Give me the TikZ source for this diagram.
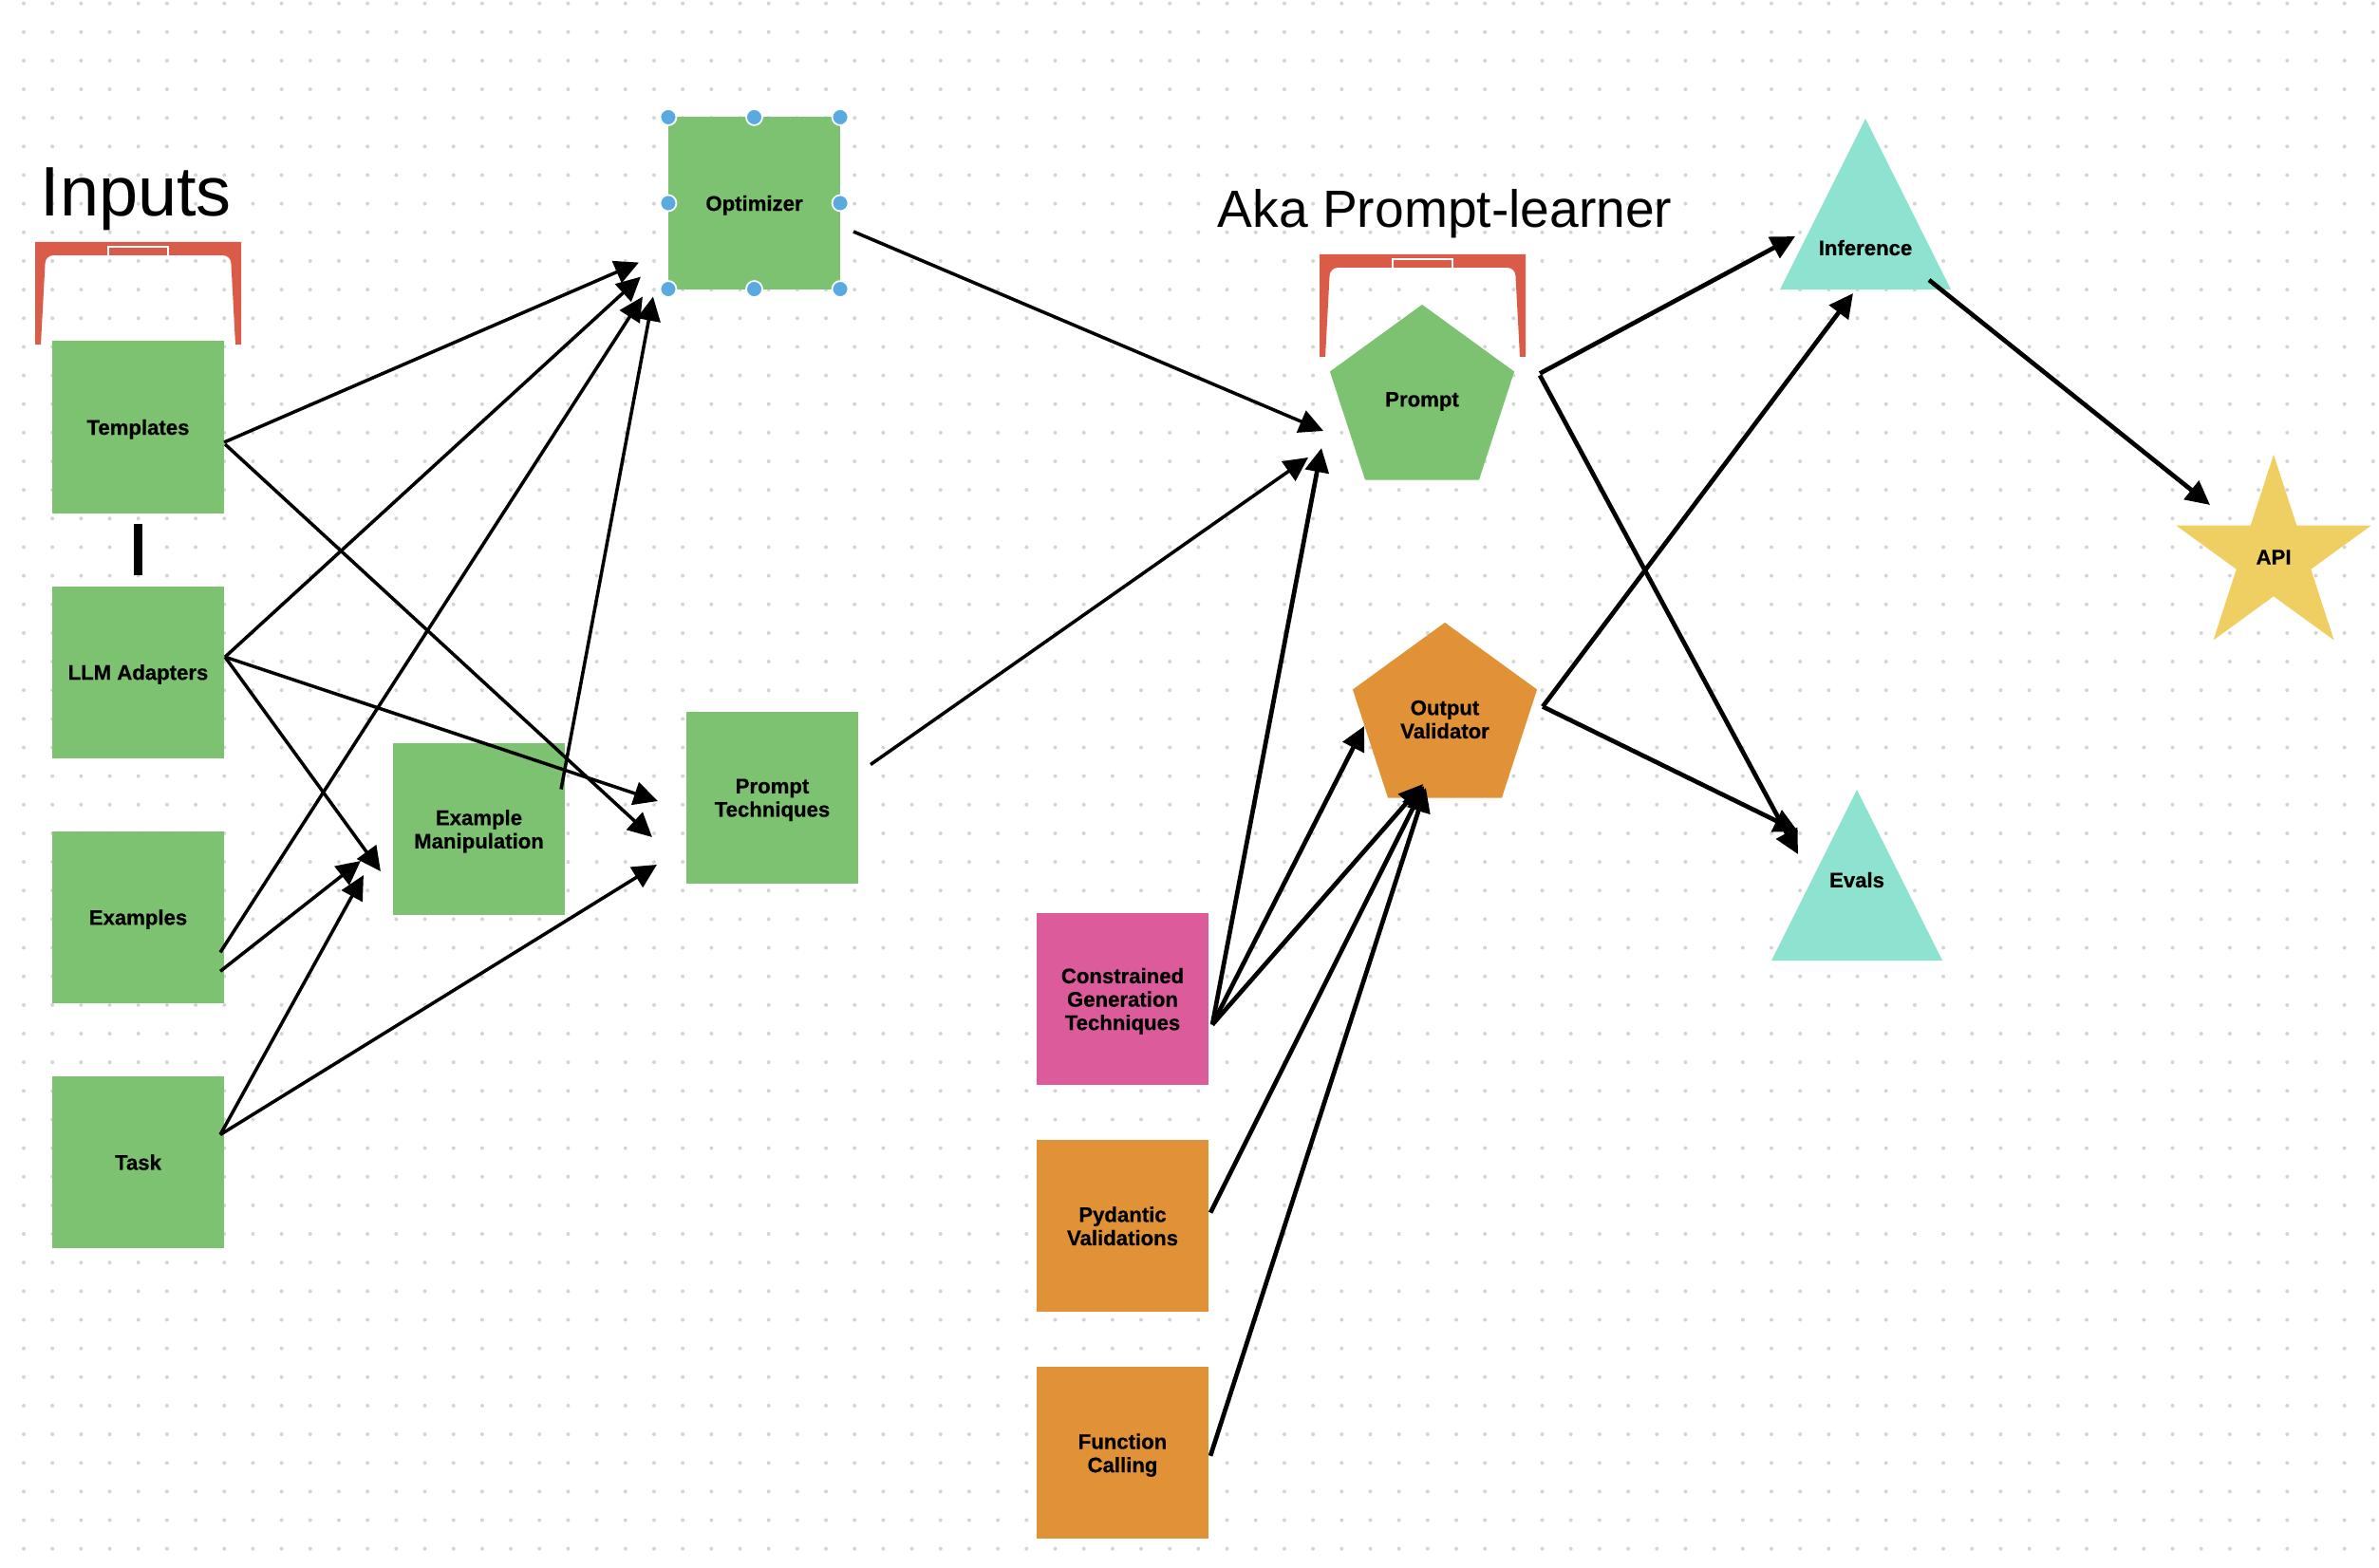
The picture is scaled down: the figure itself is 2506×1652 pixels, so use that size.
\documentclass[tikz,border=0pt]{standalone}
\usepackage{fontspec}
\setmainfont{Liberation Sans}
\newfontfamily\labelfont{Liberation Sans}[BoldFeatures={FakeBold=0.6}]
\usetikzlibrary{calc,shapes.geometric,positioning,arrows.meta}

\definecolor{boxgreen}{RGB}{124,194,112}
\definecolor{boxorange}{RGB}{226,146,54}
\definecolor{boxpink}{RGB}{219,91,155}
\definecolor{tealtri}{RGB}{142,226,208}
\definecolor{staryellow}{RGB}{240,207,98}
\definecolor{goalred}{RGB}{218,92,72}
\definecolor{handleblue}{RGB}{90,170,226}
\definecolor{dotgray}{RGB}{212,212,212}

\begin{document}
\begin{tikzpicture}[x=0.01cm,y=-0.01cm,
box/.style={fill=#1,minimum width=1.81cm,minimum height=1.81cm,inner sep=0,outer sep=0,align=center,text depth=0pt,font=\labelfont\bfseries\fontsize{6.3}{7}\selectfont},
box/.default=boxgreen,
penta/.style={regular polygon,regular polygon sides=5,minimum size=2.04cm,inner sep=0,outer sep=0,fill=#1,align=center,font=\labelfont\bfseries\fontsize{6.3}{7}\selectfont},
tri/.style={isosceles triangle,isosceles triangle stretches,shape border rotate=90,minimum width=1.8cm,minimum height=1.8cm,inner sep=0,outer sep=0,fill=tealtri,anchor=apex},
starnode/.style={star,star points=5,star point ratio=2.618,minimum size=2.16cm,inner sep=0,outer sep=0,fill=staryellow,font=\labelfont\bfseries\fontsize{6.3}{7}\selectfont},
txt/.style={inner sep=0,font=\labelfont\bfseries\fontsize{6.3}{7}\selectfont},
feed/.style={->,line width=1pt},
link/.style={->,line width=1.34pt},
handle/.style={fill=handleblue,draw=white,line width=0.5pt},
>={Triangle[length=7.2pt,width=7pt]},
goal/.pic={
  \fill[goalred] (0,0) -- (217,0) -- (217,108) -- (211,108) [rounded corners=2.3pt] -- (206,14) -- (11,14) [sharp corners] -- (6,108) -- (0,108) -- cycle;
  \draw[white,line width=0.4pt] (77,14) -- (77,5) -- (140,5) -- (140,14);
}]

\useasboundingbox (0,0) rectangle (2506,1652);
\fill[white] (0,0) rectangle (2506,1652);

% dotted canvas
\foreach \i in {0,...,82}
  \foreach \j in {0,...,54}
    \fill[dotgray] ({25+30.18*\i},{3.6+30.15*\j}) circle[radius=0.02cm];

% titles and brackets
\node[anchor=base west,inner sep=0,font=\fontsize{21}{25}\selectfont] (inputs title) at (42,228) {Inputs};
\node[anchor=base west,inner sep=0,font=\fontsize{15.7}{19}\selectfont] (aka title) at (1282,240) {Aka Prompt-learner};
\pic at (37,255) {goal};
\pic at (1390,268) {goal};

% inputs
\node[box] (templates) at (145.5,450) {Templates};
\node[box,below=0.77cm of templates] (adapters) {LLM Adapters};
\node[box,below=0.77cm of adapters] (examples) {Examples};
\node[box,below=0.77cm of examples] (task) {Task};
\draw[line width=2.3pt] ($(templates.south)+(0,11)$) -- ($(adapters.north)+(0,-12)$);

\node[box] (exmanip) at (504.5,873.5) {Example\\Manipulation};
\node[box] (optimizer) at (794.5,214) {Optimizer};
\node[box] (techniques) at (813.5,840.5) {Prompt\\Techniques};

% constraints
\node[box=boxpink] (constrained) at (1182.5,1052.5) {Constrained\\Generation\\Techniques};
\node[box=boxorange,below=0.58cm of constrained] (pydantic) {Pydantic\\Validations};
\node[box=boxorange,below=0.58cm of pydantic] (functions) {Function\\Calling};

\node[penta=boxgreen] (prompt) at (1498,423) {Prompt};
\node[penta=boxorange] (validator) at (1522,758) {Output\\Validator};

\node[tri] (inference) at (1965,125) {};
\node[txt] (inference label) at (1965,261) {Inference};
\node[tri] (evals) at (1956,832) {};
\node[txt] (evals label) at (1956,927) {Evals};
\node[starnode] (api) at (2395,587) {API};

% into optimizer
\draw[feed] ($(templates.east)+(0,16)$) -- ($(optimizer.south west)+(-31,-28)$);
\draw[feed] ($(adapters.east)+(1,-16)$) -- ($(optimizer.south west)+(-29,-13)$);
\draw[feed] ($(examples.east)+(-4,37)$) -- ($(optimizer.south west)+(-27,8)$);
\draw[feed] ($(exmanip.east)+(-4,-42)$) -- ($(optimizer.south west)+(-16,8)$);

% into prompt techniques
\draw[feed] ($(templates.east)+(1,18)$) -- ($(techniques.west)+(-36,41.5)$);
\draw[feed] ($(adapters.east)+(1,-16)$) -- ($(techniques.west)+(-30,3.5)$);
\draw[feed] ($(task.east)+(-4,-29)$) -- ($(techniques.west)+(-31,70.5)$);

% into example manipulation
\draw[feed] ($(adapters.east)+(1,-16)$) -- ($(exmanip.west)+(-13,44.5)$);
\draw[feed] ($(examples.east)+(-4,57)$) -- ($(exmanip.west)+(-34,33.5)$);
\draw[feed] ($(task.east)+(-4,-29)$) -- ($(exmanip.west)+(-31,48.5)$);

% into prompt
\draw[feed] ($(optimizer.east)+(14,30)$) -- ($(prompt)+(-104,31)$);
\draw[feed] ($(techniques.east)+(13,-35)$) -- ($(prompt)+(-120,59)$);
\draw[link] ($(constrained.east)+(4,27)$) -- ($(prompt)+(-106,49)$);

% into output validator
\draw[link] ($(constrained.east)+(4,27)$) -- ($(validator)+(-85,7)$);
\draw[link] ($(constrained.east)+(4,27)$) -- ($(validator)+(-23,68)$);
\draw[link] ($(pydantic.east)+(2,-14)$) -- ($(validator)+(-22,70)$);
\draw[link] ($(functions.east)+(2,3)$) -- ($(validator)+(-20,72)$);

% outputs
\draw[link] ($(prompt.corner 5)+(27,2)$) -- ($(inference.apex)+(-74,124)$);
\draw[link] ($(prompt.corner 5)+(27,4)$) -- ($(evals.apex)+(-62,68)$);
\draw[link] ($(validator.corner 5)+(6,18)$) -- ($(inference.apex)+(-13,184)$);
\draw[link] ($(validator.corner 5)+(6,18)$) -- ($(evals.apex)+(-62,44)$);
\draw[link] ($(inference.apex)+(67,170)$) -- ($(api)+(-67,-55)$);

% selection handles
\foreach \a in {north west,north,north east,east,south east,south,south west,west}
  \filldraw[handle] (optimizer.\a) circle[radius=0.085cm];
\end{tikzpicture}
\end{document}
